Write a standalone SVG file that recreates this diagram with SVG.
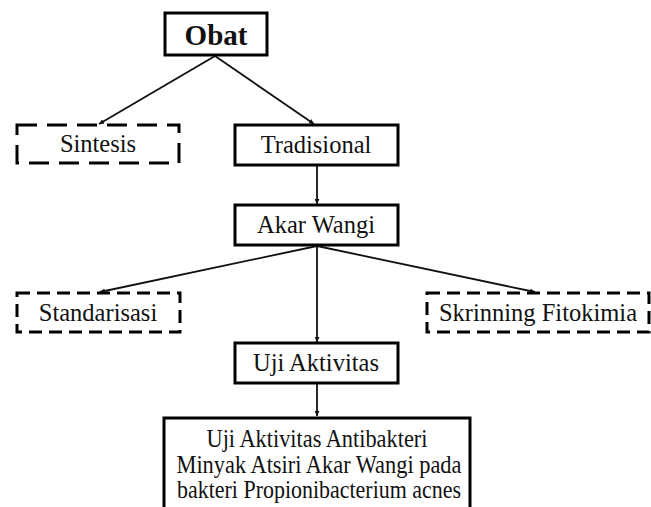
<svg xmlns="http://www.w3.org/2000/svg" width="651" height="507" viewBox="0 0 651 507">
<style>
.box{fill:#fff;stroke:#000;stroke-width:3}
.dash{fill:#fff;stroke:#000;stroke-width:3}
.t{font-family:"Liberation Serif","Times New Roman",serif;font-size:24.5px;fill:#111;text-anchor:middle}
.c{stroke:#111;stroke-width:1.8;fill:none;marker-end:url(#ah)}
</style>
<defs>
<marker id="ah" viewBox="0 0 10 10" refX="10" refY="5" markerWidth="5" markerHeight="5" markerUnits="userSpaceOnUse" orient="auto">
<path d="M0,0 L10,5 L0,10 z" fill="#111"/>
</marker>
</defs>
<rect width="651" height="507" fill="#fff"/>
<g id="connectors">
<line class="c" x1="215" y1="56" x2="99" y2="124"/>
<line class="c" x1="215" y1="56" x2="314" y2="124"/>
<line class="c" x1="317" y1="166" x2="317" y2="204"/>
<line class="c" x1="317" y1="246" x2="100" y2="292"/>
<line class="c" x1="317" y1="246" x2="317" y2="342"/>
<line class="c" x1="317" y1="246" x2="535" y2="292"/>
<line class="c" x1="317" y1="384" x2="317" y2="416"/>
</g>
<g id="obat">
<rect class="box" x="165" y="13" width="102" height="42" stroke-width="3.5"/>
<text class="t" x="216" y="45" style="font-size:29px;font-weight:bold">Obat</text>
</g>
<g id="sintesis">
<rect class="dash" x="17" y="125" width="162" height="38" stroke-dasharray="20 10"/>
<text class="t" x="98" y="152">Sintesis</text>
</g>
<g id="tradisional">
<rect class="box" x="235" y="125" width="163" height="40"/>
<text class="t" x="316" y="153">Tradisional</text>
</g>
<g id="akar-wangi">
<rect class="box" x="235" y="205" width="163" height="40"/>
<text class="t" x="316" y="233">Akar Wangi</text>
</g>
<g id="standarisasi">
<rect class="dash" x="17" y="293" width="163" height="39" stroke-dasharray="13 7"/>
<text class="t" x="98" y="321">Standarisasi</text>
</g>
<g id="skrinning">
<rect class="dash" x="427" y="293" width="222" height="39" stroke-dasharray="13 7"/>
<text class="t" x="538" y="321">Skrinning Fitokimia</text>
</g>
<g id="uji-aktivitas">
<rect class="box" x="235" y="343" width="163" height="40"/>
<text class="t" x="316" y="371">Uji Aktivitas</text>
</g>
<g id="uji-antibakteri">
<rect class="box" x="164" y="418" width="306" height="100"/>
<text class="t" x="317" y="447" textLength="221" lengthAdjust="spacingAndGlyphs">Uji Aktivitas Antibakteri</text>
<text class="t" x="319" y="473" textLength="285" lengthAdjust="spacingAndGlyphs">Minyak Atsiri Akar Wangi pada</text>
<text class="t" x="319" y="498" textLength="284" lengthAdjust="spacingAndGlyphs">bakteri Propionibacterium acnes</text>
</g>
</svg>
